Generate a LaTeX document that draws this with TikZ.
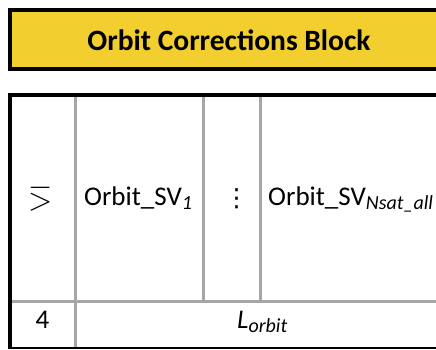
\documentclass[tikz,border=0pt]{standalone}
\usepackage{fontspec}
\setmainfont{Carlito}
\newfontfamily\symfont{DejaVu Sans}

\definecolor{blockyellow}{RGB}{242,207,46}
\definecolor{gridgray}{RGB}{166,166,166}

% small italic index set just below the baseline
\newcommand{\subtxt}[1]{\raisebox{-4pt}{\fontsize{20}{22}\selectfont\itshape #1}}

\begin{document}
\begin{tikzpicture}[x=1pt,y=-1pt,
    frame/.style={line width=4pt,black},
    grid/.style={line width=3pt,gridgray},
    cell/.style={inner sep=0pt,font=\fontsize{27}{31}\selectfont}]

    \useasboundingbox (0,0) rectangle (436,349);
    \begin{scope}
        \clip (0,0) rectangle (436,349);

        % Title block
        \fill[blockyellow] (10,10) rectangle (450,69);
        \draw[frame] (450,10) -- (10,10) -- (10,69) -- (450,69);
        \node[inner sep=0pt,font=\fontsize{29.5}{34}\selectfont\bfseries] (title) at (229,40) {Orbit Corrections Block};

        % Table grid
        \draw[grid] (75.5,95) -- (75.5,348);
        \draw[grid] (203.5,95) -- (203.5,301.5);
        \draw[grid] (260,95) -- (260,301.5);
        \draw[grid] (10,301.5) -- (450,301.5);
        \draw[frame] (450,95) -- (10,95) -- (10,349);
        \draw[line width=1.5pt] (10,348) -- (450,348);

        % Satellite entries
        \node[cell] (count) at (40.5,199) {\scalebox{1.25}[-1.25]{$\geq$}};
        \node[cell,anchor=base west] (svfirst) at (84,205) {Orbit\_SV\subtxt{1}};
        \node[cell] (dots) at (236.5,198.5) {\symfont\fontsize{25}{27}\selectfont ⋮};
        \node[cell,anchor=base west] (svlast) at (268,205) {Orbit\_SV\subtxt{Nsat\_all}};

        % Length row
        \node[cell,anchor=base] (four) at (42.5,328) {4};
        \node[cell,anchor=base west] (length) at (237,328) {\textit{L}\subtxt{orbit}};
    \end{scope}

\end{tikzpicture}
\end{document}
